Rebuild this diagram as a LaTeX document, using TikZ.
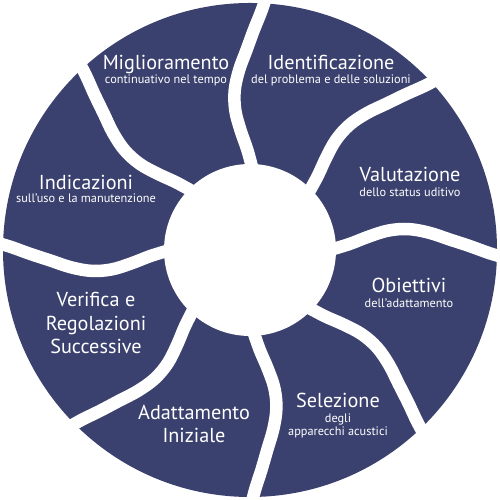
\documentclass[tikz,border=0pt]{standalone}
\usepackage{fontspec}
\setmainfont{PT Sans}
\usepackage{xcolor}
\usepackage{tikz}
\usetikzlibrary{positioning}
\definecolor{ringblue}{RGB}{59,65,110}

\begin{document}
\begin{tikzpicture}
\tikzstyle{segtitle} = [text=white, font=\fontsize{11.5}{13}\selectfont, inner sep=0pt, anchor=base]
\tikzstyle{segsub} = [text=white, font=\fontsize{7}{8}\selectfont, inner sep=0pt, anchor=base]
\tikzstyle{gapline} = [white, line width=0.25cm, line cap=round]

\useasboundingbox (0,0) rectangle (10,10);

% ring and the eight curved cuts
\fill[ringblue] (5,5) circle (4.94);
\foreach \a in {88,44,0,-45,-88,-134,180,134}
  \draw[gapline, shift={(5,5)}] plot[smooth, tension=0.6] coordinates {(\a:1.6) (\a+3.5:2.0) (\a+6.5:2.4) (\a+8:2.8) (\a+7.5:3.2) (\a+5.5:3.6) (\a+3:4.0) (\a+1:4.4) (\a-0.8:4.8) (\a-2:5.2)};
\fill[white] (5,5) circle (1.72);

% segment texts
\node (migl) [segtitle] at (3.32,8.60) {Miglioramento};
\node (miglsub) [segsub] at ([yshift=-0.28cm]migl.base) {continuativo nel tempo};
\node (ident) [segtitle] at (6.62,8.60) {Identificazione};
\node (identsub) [segsub] at ([yshift=-0.28cm]ident.base) {del problema e delle soluzioni};
\node (valut) [segtitle] at (8.20,6.36) {Valutazione};
\node (valutsub) [segsub] at ([yshift=-0.30cm]valut.base) {dello status uditivo};
\node (obiet) [segtitle] at (8.18,4.14) {Obiettivi};
\node (obietsub) [segsub] at ([yshift=-0.30cm]obiet.base) {dell’adattamento};
\node (selez) [segtitle] at (6.76,1.84) {Selezione};
\node (selezsub) [segsub] at ([yshift=-0.30cm]selez.base) {degli};
\node (selezsubb) [segsub] at ([yshift=-0.26cm]selezsub.base) {apparecchi acustici};
\node (adatt) [segtitle] at (3.88,1.60) {Adattamento};
\node (iniz) [segtitle] at ([yshift=-0.46cm]adatt.base) {Iniziale};
\node (verif) [segtitle] at (1.92,3.86) {Verifica e};
\node (regol) [segtitle] at ([yshift=-0.47cm]verif.base) {Regolazioni};
\node (succ) [segtitle] at ([yshift=-0.47cm]regol.base) {Successive};
\node (indic) [segtitle] at (1.72,6.20) {Indicazioni};
\node (indicsub) [segsub] at ([yshift=-0.26cm]indic.base) {sull’uso e la manutenzione};

\end{tikzpicture}
\end{document}
